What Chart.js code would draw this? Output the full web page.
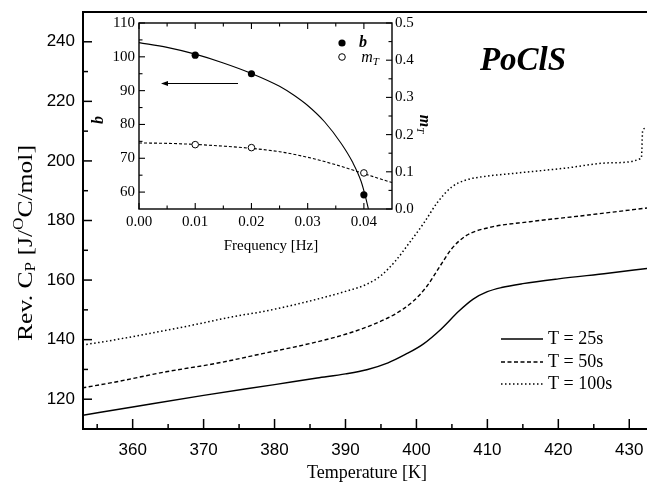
<!DOCTYPE html>
<html>
<head>
<meta charset="utf-8">
<script src="https://cdn.jsdelivr.net/npm/chart.js@4.4.1/dist/chart.umd.min.js"></script>
<style>
html, body { margin: 0; padding: 0; background: #fff; }
#wrap { position: relative; width: 647px; height: 485px; }
#main { position: absolute; left: 0; top: 0; }
#inset { position: absolute; left: 90px; top: 0; }
</style>
</head>
<body>
<div id="wrap">
<canvas id="main" width="647" height="485"></canvas>
<canvas id="inset" width="360" height="260"></canvas>
</div>
<script>
// main plot: reversing heat capacity vs temperature
const temp25 = [352.9, 360, 370, 380, 386, 390, 393, 396, 398.5, 401, 403.5, 406, 408, 410, 412, 415, 420, 427, 432.5];
const cp25   = [114.6, 117.4, 121.3, 124.9, 127.1, 128.5, 129.9, 132.2, 135.1, 138.6, 143.6, 149.6, 153.6, 156.1, 157.5, 158.8, 160.4, 162.3, 163.9];

const temp50 = [352.9, 357.6, 364.7, 371.7, 378.3, 385, 390, 394, 397, 399.5, 401.5, 403.3, 405, 407, 410, 416, 423, 432.5];
const cp50   = [123.8, 125.8, 129.2, 132.0, 135.3, 138.7, 141.8, 145.2, 148.6, 152.8, 158.0, 164.6, 170.6, 174.9, 177.5, 179.6, 181.5, 184.2];

const temp100 = [352.9, 356.7, 362.4, 368.5, 374.1, 378.3, 382.6, 387.3, 390, 393, 395, 397, 399, 401, 403, 405, 407, 410, 413.6, 420.7, 427.7, 431.7, 431.9, 432.4];
const cp100   = [138.2, 139.6, 142.1, 144.9, 147.7, 149.4, 151.6, 154.4, 156.2, 158.6, 161.5, 166.3, 172.5, 179.0, 186.2, 191.3, 193.6, 194.9, 195.8, 197.5, 199.4, 200.9, 210.4, 211];

const seriesLabels = ['T = 25s', 'T = 50s', 'T = 100s'];
const tempTicks = [360, 370, 380, 390, 400, 410, 420, 430];
const tempMinor = [355, 365, 375, 385, 395, 405, 415, 425];
const cpTicks = [120, 140, 160, 180, 200, 220, 240];
const cpMinor = [130, 150, 170, 190, 210, 230];

// inset: b and m_T vs frequency
const freqB = [0.01, 0.02, 0.04];
const bPts  = [100.5, 95.0, 59.2];
const freqM = [0.01, 0.02, 0.04];
const mPts  = [0.173, 0.165, 0.097];
const bFitF = [0, 0.005, 0.01, 0.015, 0.02, 0.025, 0.0275, 0.03, 0.033, 0.036, 0.038, 0.0395, 0.0403, 0.0408];
const bFit  = [104.2, 102.8, 100.8, 98.2, 95.1, 91.3, 88.7, 85.6, 80.8, 74.3, 68.8, 63.2, 58.5, 55];
const mFitF = [0, 0.005, 0.01, 0.015, 0.02, 0.025, 0.03, 0.035, 0.04, 0.045];
const mFit  = [0.1775, 0.1765, 0.1735, 0.169, 0.163, 0.154, 0.139, 0.119, 0.095, 0.071];
const freqTicks = [0, 0.01, 0.02, 0.03, 0.04];
const freqMinor = [0.005, 0.015, 0.025, 0.035];
const bTicks = [60, 70, 80, 90, 100, 110];
const bMinor = [65, 75, 85, 95, 105];
const mTicks = [0, 0.1, 0.2, 0.3, 0.4, 0.5];
const mMinor = [0.05, 0.15, 0.25, 0.35, 0.45];

const SERIF = '"Liberation Serif", "Times New Roman", serif';
const SANS = '"Liberation Sans", Arial, sans-serif';

function pts(xs, ys) {
    return xs.map((x, i) => ({ x: x, y: ys[i] }));
}

function curve(label, xs, ys, dash, w, axis) {
    const d = {
        label: label, data: pts(xs, ys), showLine: true, fill: false,
        borderColor: '#000', borderWidth: w, borderDash: dash,
        pointRadius: 0, cubicInterpolationMode: 'monotone'
    };
    if (axis) d.yAxisID = axis;
    return d;
}

// draws ticks pointing into the plot
function tick(ctx, scale, values, len, side) {
    const a = scale.chart.chartArea;
    values.forEach(v => {
        const p = scale.getPixelForValue(v);
        ctx.beginPath();
        if (side === 'bottom') { ctx.moveTo(p, a.bottom); ctx.lineTo(p, a.bottom - len); }
        if (side === 'top') { ctx.moveTo(p, a.top); ctx.lineTo(p, a.top + len); }
        if (side === 'left') { ctx.moveTo(a.left, p); ctx.lineTo(a.left + len, p); }
        if (side === 'right') { ctx.moveTo(a.right, p); ctx.lineTo(a.right - len, p); }
        ctx.stroke();
    });
}

// text with sub/superscripts, centred on x
function runs(ctx, parts, x, y) {
    let total = 0;
    parts.forEach(r => { ctx.font = r.f; total += ctx.measureText(r.t).width; });
    let cx = x - total / 2;
    parts.forEach(r => {
        ctx.font = r.f;
        ctx.fillText(r.t, cx, y + (r.dy || 0));
        cx += ctx.measureText(r.t).width;
    });
}

const mainDeco = {
    id: 'mainDeco',
    afterDraw(chart) {
        const ctx = chart.ctx;
        const a = chart.chartArea;
        ctx.save();
        ctx.strokeStyle = '#000';
        ctx.fillStyle = '#000';
        ctx.lineWidth = 2;
        ctx.beginPath();
        ctx.moveTo(a.right, a.top);
        ctx.lineTo(a.left, a.top);
        ctx.lineTo(a.left, a.bottom);
        ctx.lineTo(a.right, a.bottom);
        ctx.stroke();
        ctx.lineWidth = 1.5;
        tick(ctx, chart.scales.x, tempTicks, 10, 'bottom');
        tick(ctx, chart.scales.x, tempMinor, 5, 'bottom');
        tick(ctx, chart.scales.y, cpTicks, 9, 'left');
        tick(ctx, chart.scales.y, cpMinor, 5, 'left');

        ctx.textBaseline = 'middle';
        ctx.textAlign = 'center';
        ctx.font = '18px ' + SERIF;
        ctx.fillText('Temperature [K]', 367, 473);

        ctx.save();
        ctx.translate(26, 243);
        ctx.rotate(-Math.PI / 2);
        ctx.scale(1.22, 1);
        ctx.textAlign = 'left';
        runs(ctx, [
            { t: 'Rev. C', f: '21px ' + SERIF },
            { t: 'P', f: '14px ' + SERIF, dy: 5 },
            { t: ' [J/', f: '21px ' + SERIF },
            { t: 'O', f: '14px ' + SERIF, dy: -7 },
            { t: 'C/mol]', f: '21px ' + SERIF }
        ], 0, 0);
        ctx.restore();

        ctx.textAlign = 'center';
        ctx.textBaseline = 'alphabetic';
        ctx.font = 'italic bold 33px ' + SERIF;
        ctx.fillText('PoClS', 523, 70);

        // legend
        const dashes = [[], [4, 2.5], [1.5, 2.5]];
        const rows = [339, 362, 384];
        ctx.textAlign = 'left';
        ctx.textBaseline = 'middle';
        ctx.font = '18px ' + SERIF;
        seriesLabels.forEach((lab, i) => {
            ctx.setLineDash(dashes[i]);
            ctx.lineWidth = 1.4;
            ctx.beginPath();
            ctx.moveTo(501, rows[i]);
            ctx.lineTo(543, rows[i]);
            ctx.stroke();
            ctx.setLineDash([]);
            ctx.fillText(lab, 548, rows[i]);
        });
        ctx.restore();
    }
};

new Chart(document.getElementById('main'), {
    type: 'scatter',
    data: {
        datasets: [
            curve(seriesLabels[0], temp25, cp25, [], 1.4),
            curve(seriesLabels[1], temp50, cp50, [4, 2.5], 1.4),
            curve(seriesLabels[2], temp100, cp100, [1.5, 2.5], 1.5)
        ]
    },
    options: {
        responsive: false,
        animation: false,
        layout: { padding: { top: 12, right: 0, left: 0, bottom: 0 } },
        plugins: { legend: { display: false }, tooltip: { enabled: false } },
        scales: {
            x: {
                type: 'linear', min: 353, max: 432.5,
                afterBuildTicks: s => { s.ticks = tempTicks.map(v => ({ value: v })); },
                afterFit: s => { s.height = 56; s.paddingLeft = 0; s.paddingRight = 0; },
                grid: { display: false, drawTicks: false },
                border: { display: false },
                ticks: { font: { family: SANS, size: 17 }, color: '#000', padding: 11, maxRotation: 0, autoSkip: false }
            },
            y: {
                type: 'linear', min: 110, max: 250,
                afterBuildTicks: s => { s.ticks = cpTicks.map(v => ({ value: v })); },
                afterFit: s => { s.width = 83; s.paddingTop = 0; s.paddingBottom = 0; },
                grid: { display: false, drawTicks: false },
                border: { display: false },
                ticks: { font: { family: SANS, size: 17 }, color: '#000', padding: 8, autoSkip: false }
            }
        }
    },
    plugins: [mainDeco]
});

const insetDeco = {
    id: 'insetDeco',
    afterDraw(chart) {
        const ctx = chart.ctx;
        const a = chart.chartArea;
        ctx.save();
        ctx.strokeStyle = '#000';
        ctx.fillStyle = '#000';
        ctx.lineWidth = 1.4;
        ctx.strokeRect(a.left, a.top, a.right - a.left, a.bottom - a.top);
        ctx.lineWidth = 1.1;
        const sx = chart.scales.x, sl = chart.scales.yL, sr = chart.scales.yR;
        ['bottom', 'top'].forEach(side => {
            tick(ctx, sx, freqTicks, 6, side);
            tick(ctx, sx, freqMinor, 3.5, side);
        });
        tick(ctx, sl, bTicks, 6, 'left');
        tick(ctx, sl, bMinor, 3.5, 'left');
        tick(ctx, sr, mTicks, 6, 'right');
        tick(ctx, sr, mMinor, 3.5, 'right');

        ctx.textAlign = 'center';
        ctx.textBaseline = 'middle';
        ctx.font = '15px ' + SERIF;
        ctx.fillText('Frequency [Hz]', 181, 246);

        ctx.save();
        ctx.translate(9, 120);
        ctx.rotate(-Math.PI / 2);
        ctx.font = 'italic bold 16px ' + SERIF;
        ctx.fillText('b', 0, 0);
        ctx.restore();

        ctx.save();
        ctx.translate(334, 124);
        ctx.rotate(Math.PI / 2);
        ctx.textAlign = 'left';
        runs(ctx, [
            { t: 'm', f: 'italic bold 16px ' + SERIF },
            { t: 'T', f: 'italic 11px ' + SERIF, dy: 4 }
        ], 0, 0);
        ctx.restore();

        // legend
        ctx.beginPath();
        ctx.arc(252, 43, 3.6, 0, Math.PI * 2);
        ctx.fill();
        ctx.beginPath();
        ctx.lineWidth = 1;
        ctx.fillStyle = '#fff';
        ctx.arc(252, 57, 3.3, 0, Math.PI * 2);
        ctx.fill();
        ctx.stroke();
        ctx.fillStyle = '#000';
        ctx.textAlign = 'left';
        ctx.font = 'italic bold 16px ' + SERIF;
        ctx.fillText('b', 269, 43);
        runs(ctx, [
            { t: 'm', f: 'italic 16px ' + SERIF },
            { t: 'T', f: 'italic 11px ' + SERIF, dy: 4 }
        ], 280, 58);

        // arrow towards the left axis
        ctx.lineWidth = 1.1;
        ctx.beginPath();
        ctx.moveTo(148, 83.5);
        ctx.lineTo(73, 83.5);
        ctx.stroke();
        ctx.beginPath();
        ctx.moveTo(71, 83.5);
        ctx.lineTo(78, 81);
        ctx.lineTo(78, 86);
        ctx.closePath();
        ctx.fill();
        ctx.restore();
    }
};

new Chart(document.getElementById('inset'), {
    type: 'scatter',
    data: {
        datasets: [
            { label: 'b', data: pts(freqB, bPts), yAxisID: 'yL', pointRadius: 3.6, backgroundColor: '#000', borderColor: '#000', pointBorderWidth: 0 },
            { label: 'mT', data: pts(freqM, mPts), yAxisID: 'yR', pointRadius: 3.3, backgroundColor: '#fff', borderColor: '#000', pointBorderWidth: 1 },
            curve('b fit', bFitF, bFit, [], 1.1, 'yL'),
            curve('mT fit', mFitF, mFit, [3, 2], 1.1, 'yR')
        ]
    },
    options: {
        responsive: false,
        animation: false,
        layout: { padding: { top: 23, right: 0, left: 0, bottom: 0 } },
        plugins: { legend: { display: false }, tooltip: { enabled: false } },
        scales: {
            x: {
                type: 'linear', min: 0, max: 0.045,
                afterBuildTicks: s => { s.ticks = freqTicks.map(v => ({ value: v })); },
                afterFit: s => { s.height = 51; s.paddingLeft = 0; s.paddingRight = 0; },
                grid: { display: false, drawTicks: false },
                border: { display: false },
                ticks: { font: { family: SERIF, size: 15 }, color: '#000', padding: 4, maxRotation: 0, autoSkip: false, callback: v => v.toFixed(2) }
            },
            yL: {
                type: 'linear', position: 'left', min: 55, max: 110,
                afterBuildTicks: s => { s.ticks = bTicks.map(v => ({ value: v })); },
                afterFit: s => { s.width = 49; s.paddingTop = 0; s.paddingBottom = 0; },
                grid: { display: false, drawTicks: false },
                border: { display: false },
                ticks: { font: { family: SERIF, size: 15 }, color: '#000', padding: 4, autoSkip: false }
            },
            yR: {
                type: 'linear', position: 'right', min: 0, max: 0.5,
                afterBuildTicks: s => { s.ticks = mTicks.map(v => ({ value: v })); },
                afterFit: s => { s.width = 58; s.paddingTop = 0; s.paddingBottom = 0; },
                grid: { display: false, drawTicks: false },
                border: { display: false },
                ticks: { font: { family: SERIF, size: 15 }, color: '#000', padding: 3, autoSkip: false, callback: v => v.toFixed(1) }
            }
        }
    },
    plugins: [insetDeco]
});
</script>
</body>
</html>
